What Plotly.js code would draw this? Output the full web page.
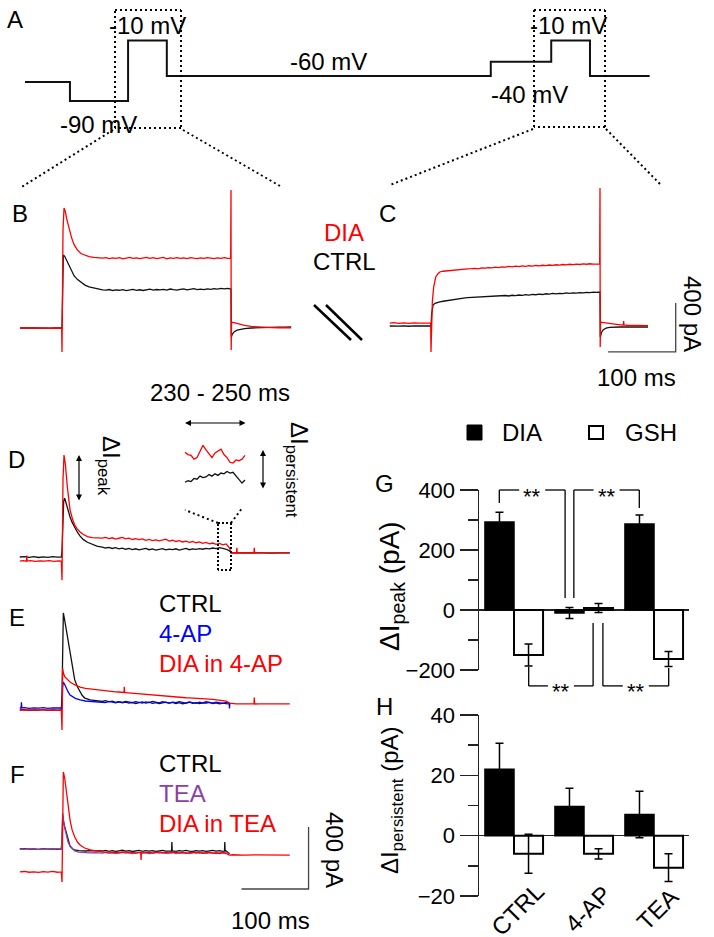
<!DOCTYPE html>
<html>
<head>
<meta charset="utf-8">
<script src="https://cdn.plot.ly/plotly-3.0.1.min.js"></script>
<style>body{margin:0;background:#fff}#fig{width:714px;height:937px}</style>
</head>
<body>
<div id="fig"></div>
<script>
// ---- data ----
// A: voltage protocol (ms, mV)
const protoT = [0, 290, 290, 665, 665, 915, 915, 3005, 3005, 3395, 3395, 3645, 3645, 4030];
const protoV = [-65, -65, -90, -90, -10, -10, -57, -57, -38, -38, -10, -10, -57, -57];

// sample times shared by the plateau parts of the current traces (ms)
const plateauT = [60,65,70,75,80,85,90,95,100,105,110,115,120,125,130,135,140,145,150,155,160,165,170,175,180,185,190,195,200,205,210,215,220,225,230,235,240,245];

// B: step after -90 mV (ms, pA)
const bCtrlT = [-62,-55,-48,-40,-33,-25,-18,-10,-4,0,1,2,4,7,10,14,18,23,28,34,40,47,54].concat(plateauT, [250,250.5,252,255,259,264,270,280,290,300,310,320,330,339]);
const bCtrlI = [0,2,-2,1,-1,2,-1,1,0,0,300,596,585,550,505,460,425,395,372,350,335,325,318,
  312,309,314,306,311,308,313,305,310,315,308,312,306,313,317,309,314,311,316,310,318,313,309,315,320,312,316,322,314,318,313,320,316,322,318,323,319,324,
  318,-73,-50,-30,-18,-10,-5,0,3,5,6,7,7,8];
const bDiaT = [-62,-55,-48,-40,-33,-25,-18,-10,-4,-0.5,0,0.5,1.5,3,5,7,10,14,18,23,28,34,40,47,54].concat(plateauT, [249.5,250,250.3,250.8,253,256,260,265,270,280,290,300,310,320,330,339]);
const bDiaI = [0,1,-2,2,-1,1,-2,1,0,0,-196,200,800,980,950,890,824,740,678,635,608,592,582,576,573,
  570,574,566,572,569,575,565,571,576,568,573,566,572,577,569,574,567,571,576,565,573,569,575,568,572,566,574,570,567,573,568,575,571,566,572,569,574,568,
  570,1127,-180,49,45,40,34,27,21,13,8,5,3,2,1,1];

// C: step after -40 mV
const cCtrlT = [-61,-55,-48,-40,-33,-25,-18,-10,-4,0,1,3,6,9,13,18,24,30,36,42,48,54].concat(plateauT, [250,250.5,252,255,259,264,270,280,290,300,310,321]);
const cCtrlI = [0,2,-1,1,-2,1,-1,2,0,0,100,171,185,192,196,202,208,214,220,224,228,231,
  233,236,232,239,241,237,243,240,246,244,249,245,251,248,253,250,256,252,258,255,260,257,263,260,266,262,267,264,270,266,271,268,273,270,275,272,277,274,
  277,-90,-55,-30,-18,-12,-9,-8,-7,-8,-7,-8];
const cDiaT = [-61,-55,-48,-40,-33,-25,-18,-10,-4,-0.5,0,0.5,2,4,7,10,13,18,24,30,36,42,48,54].concat(plateauT, [249.5,250,250.3,250.8,253,256,260,265,270,280,284.5,285,285.5,290,300,310,321]);
const cDiaI = [24,27,22,25,21,26,23,25,24,24,-212,-50,200,320,400,425,441,447,451,455,458,461,463,466,
  468,471,467,474,472,477,474,480,477,483,480,486,483,488,485,490,487,492,489,494,491,496,493,498,495,500,497,502,499,504,501,505,502,507,504,508,505,507,
  506,1127,-171,33,30,27,23,18,14,9,8,40,8,6,4,3,2];

// D: CTRL vs DIA
const dCtrlT = [-63,-56,-49,-42,-35,-28,-21,-14,-7,-1,0,1,2.5,4,6,9,12,15,19,23,27,32,38,45,52].concat(plateauT, [250,252,260,270,280,290,300,310,320,330,340]);
const dCtrlI = [0,3,-2,2,-3,1,-2,3,-1,0,40,200,360,380,345,295,258,225,187,160,135,112,95,80,70,
  64,58,62,55,60,52,57,50,55,48,53,46,51,55,47,52,45,50,54,46,51,48,53,45,50,55,47,52,49,54,50,56,52,58,54,60,55,50,
  40,28,26,27,25,27,26,25,27,26,26];
const dDiaT = [-63,-58,-53,-52.5,-52,-47,-40,-33,-26,-19,-12,-5,-1,0,0.5,1.5,3,5,8,12,16,19,23,27,32,38,45,52].concat(plateauT, [250,252,258,260.5,261,261.5,270,280,286.5,287,287.5,295,305,315,325,340]);
const dDiaI = [-26,-24,-27,10,-26,-23,-28,-25,-27,-24,-28,-25,-26,-150,100,500,658,600,450,303,240,206,180,161,145,132,125,123,
  122,127,119,124,116,121,126,117,122,113,118,112,117,108,114,106,111,104,109,115,103,108,100,105,97,102,95,100,92,97,88,94,85,90,82,88,78,84,
  60,26,27,26,60,26,27,25,26,60,26,27,25,26,27,26];

// D inset: 230 - 250 ms window
const insetT = [230,231,232,233,234,235,236,237,238,239,240,241,242,243,244,245,246,247,248,249,250];
const insetDia = [86,83,82,77,79,88,95,89,84,79,85,87,90,83,79,73,72,76,75,77,82];
const insetCtrl = [47,49,48,52,51,55,53,54,57,55,58,56,59,58,61,59,60,55,50,46,50];

// E: CTRL, 4-AP, DIA in 4-AP
const eCtrlT = [-63,-56,-49,-42,-35,-28,-21,-14,-7,-1,0,1,2,4,7,10,12,15,19,23,27,30,34,38,42,48,54].concat(plateauT, [250]);
const eCtrlI = [0,2,-2,1,-1,2,-2,1,-1,0,100,500,626,580,500,420,368,290,194,150,116,95,77,70,65,62,58,
  55,60,52,57,49,54,46,51,44,49,42,47,52,45,50,43,48,41,46,51,44,49,42,47,40,45,50,43,48,41,46,44,49,42,46,40,44,41,
  39];
const eApT = [-63,-61,-60.5,-60,-56,-49,-42,-35,-28,-21,-14,-7,-1,0,1,2,4,6,9,12,16,20,27,35,45,52].concat(plateauT, [249.5,250,250.5]);
const eApI = [13,14,50,13,15,11,14,12,15,11,14,12,13,13,150,181,165,142,118,97,85,75,65,58,55,54,
  52,48,55,50,46,53,49,56,51,47,54,50,45,52,48,55,50,46,53,49,44,51,47,54,50,45,52,48,43,50,46,53,48,44,51,47,43,49,
  46,10,46];
const eDiaT = [-63,-56,-49,-42,-35,-28,-21,-14,-7,-1,0,0.5,1,2,4,6,9,12,18,27,35,45,52,
  60,65,70,75,80,85,90,92.5,93,93.5,95,100,105,110,115,120,125,130,135,140,145,150,155,160,165,170,175,180,185,190,195,200,205,210,215,220,225,230,235,240,245,
  250,255,260,270,280,286.5,287,287.5,295,305,315,325,340];
const eDiaI = [0,1,-2,1,-1,2,-1,1,-2,0,-129,100,271,240,215,206,192,181,165,148,140,134,130,
  126,124,122,119,117,116,113,113,150,112,112,110,107,106,103,101,99,98,95,93,92,89,88,86,85,83,82,80,79,78,76,75,74,73,71,70,69,67,66,63,58,
  45,40,39,40,38,39,80,39,40,38,39,40,39];

// F: CTRL, TEA, DIA in TEA
const fCtrlT = [-63,-56,-49,-42,-35,-28,-21,-14,-7,-1,0,1,3,6,9,12,16,19,25,30,35,42,50,55,
  60,65,70,75,80,85,90,95,100,105,110,115,120,125,130,135,140,145,150,155,160,163.5,164,164.5,165,170,175,180,185,190,195,200,205,210,215,220,225,230,235,240,242.5,243,243.5,245,
  250];
const fCtrlI = [0,2,-1,1,-2,2,-1,1,-2,0,50,215,160,110,55,19,0,-6,-10,-12,-13,-11,-14,-12,
  -13,-9,-15,-11,-16,-12,-8,-14,-10,-16,-12,-9,-15,-11,-14,-10,-16,-12,-9,-14,-11,-13,45,-13,-12,-15,-10,-14,-9,-13,-16,-11,-14,-10,-15,-12,-9,-14,-11,-15,-13,45,-13,-12,
  -30];
const fTeaT = [-63,-56,-49,-42,-35,-28,-21,-14,-7,-1,0,1,3,6,9,12,16,19,25,30,35,42,50,55].concat(plateauT, [250]);
const fTeaI = [1,-1,2,0,-2,1,-1,2,0,0,60,232,155,90,45,19,-2,-13,-20,-22,-24,-25,-24,-26,
  -26,-22,-28,-24,-30,-25,-21,-27,-23,-29,-25,-22,-28,-24,-30,-26,-21,-27,-23,-28,-25,-22,-29,-24,-27,-23,-30,-25,-21,-27,-24,-28,-23,-26,-30,-25,-22,-27,
  -26];
const fDiaT = [-63,-56,-49,-42,-35,-28,-21,-14,-7,-1,0,0.5,2,4,6,9,12,15,19,23,27,33,42,50,55,
  60,65,70,75,80,85,90,95,100,105,110,115,117.5,118,118.5,120,125,130,135,140,145,150,155,160,165,170,175,180,185,190,195,200,205,210,215,220,225,230,235,240,245,
  250,255,270,290,310,340];
const fDiaI = [-148,-145,-150,-147,-151,-146,-149,-145,-150,-148,-213,100,497,458,400,290,187,125,77,45,26,8,-6,-13,-17,
  -19,-22,-18,-24,-20,-25,-21,-18,-24,-20,-26,-22,-22,-70,-22,-19,-25,-21,-27,-23,-19,-25,-21,-27,-23,-20,-26,-22,-28,-24,-20,-26,-22,-28,-24,-21,-27,-23,-29,-25,-28,
  -39,-37,-40,-38,-40,-39];

// scale bars
const barMs = 100, barPA = 400;

// G, H: bar charts
const groups = ['CTRL', '4-AP', 'TEA'];
const peakDIA = [293, -10, 287];
const peakDIAerr = [33, 18, 30];
const peakGSH = [-150, 7, -163];
const peakGSHerr = [37, 15, 25];
const persDIA = [22, 9.7, 7];
const persDIAerr = [8.6, 6, 7.7];
const persGSH = [-6, -6, -10.6];
const persGSHerr = [6.5, 1.7, 4.6];

// ---- layout helpers (pixel -> paper) ----
const W = 714, H = 937;
const px = x => x / W;
const py = y => 1 - y / H;
function xAx(left, right, origin, scale) {
  return {domain: [px(left), px(right)], range: [(left - origin) / scale, (right - origin) / scale], visible: false, fixedrange: true};
}
function yAx(top, bottom, origin, scale) {
  return {domain: [py(bottom), py(top)], range: [(origin - bottom) / scale, (origin - top) / scale], visible: false, fixedrange: true};
}

const RED = '#ff0000', BLUE = '#0000ff', PURPLE = '#8e3ea8', INK = '#111';
const FONT = 'Liberation Sans, Arial, sans-serif';

function tr(x, y, color, n, w) {
  return {x: x, y: y, type: 'scatter', mode: 'lines', line: {color: color, width: w || 1.3},
          xaxis: 'x' + n, yaxis: 'y' + n, hoverinfo: 'skip'};
}

let data = [
  tr(protoT, protoV, INK, '', 2),
  tr(bCtrlT, bCtrlI, INK, 2), tr(bDiaT, bDiaI, RED, 2),
  tr(cCtrlT, cCtrlI, INK, 3), tr(cDiaT, cDiaI, RED, 3),
  tr(dCtrlT, dCtrlI, INK, 4), tr(dDiaT, dDiaI, RED, 4),
  tr(insetT, insetCtrl, INK, 5), tr(insetT, insetDia, RED, 5),
  tr(eCtrlT, eCtrlI, INK, 6), tr(eApT, eApI, BLUE, 6), tr(eDiaT, eDiaI, RED, 6),
  tr(fCtrlT, fCtrlI, INK, 7), tr(fTeaT, fTeaI, PURPLE, 7), tr(fDiaT, fDiaI, RED, 7)
];
// scale bars (C and F)
data.push(tr([262, 262 + barMs, 262 + barMs], [-212, -212, -212 + barPA], '#444', 3, 1.3));
data.push(tr([268, 268 + barMs, 268 + barMs], [-258, -258, -258 + barPA], '#444', 7, 1.3));

function bars(y, err, fill, lw, n) {
  return {type: 'bar', x: groups, y: y, xaxis: 'x' + n, yaxis: 'y' + n, hoverinfo: 'skip',
          marker: {color: fill, line: {color: '#000', width: lw}},
          error_y: {type: 'data', array: err, visible: true, color: '#000', thickness: 1.5, width: 4}};
}
data.push(bars(peakDIA, peakDIAerr, '#000', 1.5, 8), bars(peakGSH, peakGSHerr, '#fff', 2, 8));
data.push(bars(persDIA, persDIAerr, '#000', 1.5, 9), bars(persGSH, persGSHerr, '#fff', 2, 9));

function barY(top, bottom, lo, hi, dtick) {
  return {domain: [py(bottom), py(top)], range: [lo, hi], fixedrange: true, showgrid: false,
          showline: true, linecolor: '#222', linewidth: 1.5,
          ticks: 'outside', ticklen: 18, tickwidth: 1.5, tickcolor: '#222', tick0: 0, dtick: dtick,
          tickfont: {size: 22, color: '#000', family: FONT},
          minor: {ticks: 'outside', dtick: dtick / 2, ticklen: 10, tickwidth: 1.5, tickcolor: '#222'},
          zeroline: true, zerolinecolor: '#222', zerolinewidth: 1.5};
}
function barX(n) {
  return {domain: [px(479), px(689)], type: 'category', range: [-0.5, 2.5], visible: false, fixedrange: true, anchor: 'y' + n};
}

const layout = {
  width: W, height: H, margin: {l: 0, r: 0, t: 0, b: 0},
  paper_bgcolor: '#fff', plot_bgcolor: 'rgba(0,0,0,0)', showlegend: false,
  font: {family: FONT, size: 24, color: '#000'},
  barmode: 'group', bargap: 0.17, bargroupgap: 0,
  xaxis: Object.assign(xAx(20, 660, 25, 0.155), {anchor: 'y'}),
  yaxis: Object.assign(yAx(30, 112, 32.94, 0.756), {anchor: 'x'}),
  xaxis2: Object.assign(xAx(15, 300, 62, 0.676), {anchor: 'y2'}),
  yaxis2: Object.assign(yAx(180, 362, 328, 0.1225), {anchor: 'x2'}),
  xaxis3: Object.assign(xAx(385, 690, 431, 0.676), {anchor: 'y3'}),
  yaxis3: Object.assign(yAx(180, 362, 326, 0.1225), {anchor: 'x3'}),
  xaxis4: Object.assign(xAx(15, 300, 62, 0.67), {anchor: 'y4'}),
  yaxis4: Object.assign(yAx(440, 590, 557, 0.155), {anchor: 'x4'}),
  xaxis5: {domain: [px(182), px(248)], range: [229, 251], visible: false, anchor: 'y5'},
  yaxis5: {domain: [py(495), py(440)], range: [30.5, 101.9], visible: false, anchor: 'x5'},
  xaxis6: Object.assign(xAx(15, 300, 62, 0.67), {anchor: 'y6'}),
  yaxis6: Object.assign(yAx(600, 740, 710, 0.155), {anchor: 'x6'}),
  xaxis7: Object.assign(xAx(15, 320, 62, 0.67), {anchor: 'y7'}),
  yaxis7: Object.assign(yAx(760, 895, 849, 0.155), {anchor: 'x7'}),
  xaxis8: barX(8),
  yaxis8: Object.assign(barY(490, 670, -200, 400, 200), {anchor: 'x8'}),
  xaxis9: barX(9),
  yaxis9: Object.assign(barY(715, 896, -20, 40, 20), {anchor: 'x9'}),
  shapes: [], annotations: []
};

const S = layout.shapes, A = layout.annotations;
function seg(x0, y0, x1, y1, opt) {
  S.push(Object.assign({type: 'line', xref: 'paper', yref: 'paper', x0: px(x0), y0: py(y0), x1: px(x1), y1: py(y1),
    line: {color: '#000', width: 1.3}}, opt || {}));
}
const DOT = {line: {color: '#000', width: 2, dash: '2px,3px'}};
function box(x0, y0, x1, y1, opt) {
  seg(x0, y0, x1, y0, opt); seg(x1, y0, x1, y1, opt); seg(x1, y1, x0, y1, opt); seg(x0, y1, x0, y0, opt);
}
// A: zoom boxes and guide lines
box(115, 10, 181, 128, DOT); box(534, 10, 605, 127, DOT);
seg(113, 130, 20, 188, DOT); seg(183, 130, 280, 186, DOT);
seg(533, 129, 390, 185, DOT); seg(606, 129, 660, 184, DOT);
// break marks between B and C
seg(314, 305, 351, 340, {line: {color: '#000', width: 2.5}});
seg(326, 305, 362, 340, {line: {color: '#000', width: 2.5}});
// D: window box and funnel
box(218, 523, 231, 570, {line: {color: '#000', width: 2, dash: '2px,2px'}});
seg(218, 523, 185, 510, DOT); seg(231, 523, 243, 507, DOT);
// G legend swatches
S.push({type: 'rect', xref: 'paper', yref: 'paper', x0: px(467), x1: px(482), y0: py(440), y1: py(425), fillcolor: '#000', line: {color: '#000', width: 1}});
S.push({type: 'rect', xref: 'paper', yref: 'paper', x0: px(589), x1: px(603), y0: py(439), y1: py(426), fillcolor: '#fff', line: {color: '#000', width: 2}});

// G significance brackets, positions from the bar axis mapping
const gx = c => 479 + (c + 0.5) * 70;
const gy = v => 670 - (v + 200) * 0.3;
const brackets = [
  {a: -0.21, b: 0.73, lvl: 400, ya: 357, yb: 40},
  {a: 0.855, b: 1.79, lvl: 400, ya: 40, yb: 340},
  {a: 0.21, b: 1.13, lvl: -253, ya: -190, yb: -43},
  {a: 1.27, b: 2.21, lvl: -253, ya: -43, yb: -193}
];
brackets.forEach(function(k) {
  const xa = gx(k.a), xb = gx(k.b), yl = gy(k.lvl), mid = (xa + xb) / 2;
  seg(xa, gy(k.ya), xa, yl); seg(xa, yl, mid - 13, yl);
  seg(mid + 13, yl, xb, yl); seg(xb, yl, xb, gy(k.yb));
  A.push({xref: 'paper', yref: 'paper', x: px(mid), y: py(yl), text: '**', showarrow: false,
          font: {size: 22}, xanchor: 'center', yanchor: 'middle', yshift: -6});
});

function txt(t, x, y, o) {
  A.push(Object.assign({xref: 'paper', yref: 'paper', x: px(x), y: py(y), text: t, showarrow: false,
    xanchor: 'center', yanchor: 'middle'}, o || {}));
}
[['A', 15, 19], ['B', 20, 214], ['C', 388, 214], ['D', 16, 459], ['E', 17, 617], ['F', 17, 774], ['G', 384, 483], ['H', 384, 706]]
  .forEach(l => txt(l[0], l[1], l[2]));
txt('-10 mV', 147, 26); txt('-60 mV', 328, 61); txt('-90 mV', 98, 125);
txt('-10 mV', 568, 26); txt('-40 mV', 529, 94);
txt('DIA', 344, 232, {font: {color: RED}}); txt('CTRL', 344, 262);
txt('400 pA', 693, 314, {textangle: 90}); txt('100 ms', 636, 378);
txt('230 - 250 ms', 220, 392);
txt('ΔI<sub>peak</sub>', 110, 466, {textangle: 90});
txt('ΔI<sub>persistent</sub>', 298, 470, {textangle: 90});
txt('CTRL', 157, 603, {xanchor: 'left'});
txt('4-AP', 157, 633, {xanchor: 'left', font: {color: BLUE}});
txt('DIA in 4-AP', 157, 663, {xanchor: 'left', font: {color: RED}});
txt('CTRL', 157, 763, {xanchor: 'left'});
txt('TEA', 157, 793, {xanchor: 'left', font: {color: PURPLE}});
txt('DIA in TEA', 157, 823, {xanchor: 'left', font: {color: RED}});
txt('400 pA', 335, 850, {textangle: 90}); txt('100 ms', 270, 920);
txt('DIA', 500, 432, {xanchor: 'left'}); txt('GSH', 623, 432, {xanchor: 'left'});
txt('ΔI<sub>peak</sub> (pA)', 391, 586, {textangle: -90, font: {size: 28}});
txt('ΔI<sub>persistent</sub> (pA)', 391, 801, {textangle: -90, font: {size: 24}});
groups.forEach(function(g, i) {
  txt(g, gx(i) + 3, 909, {textangle: -45});
});

function arrow(x, y, ax, ay) {
  A.push({xref: 'paper', yref: 'paper', x: px(x), y: py(y), ax: ax, ay: ay, text: '', showarrow: true,
          arrowside: 'end+start', arrowhead: 2, arrowsize: 1, arrowwidth: 1.2, arrowcolor: '#000',
          standoff: 0, startstandoff: 0});
}
arrow(79, 455, 0, 47);
arrow(185, 423, 62, 0);
arrow(263, 450, 0, 40);

Plotly.newPlot('fig', data, layout, {staticPlot: true, displayModeBar: false});
</script>
</body>
</html>
